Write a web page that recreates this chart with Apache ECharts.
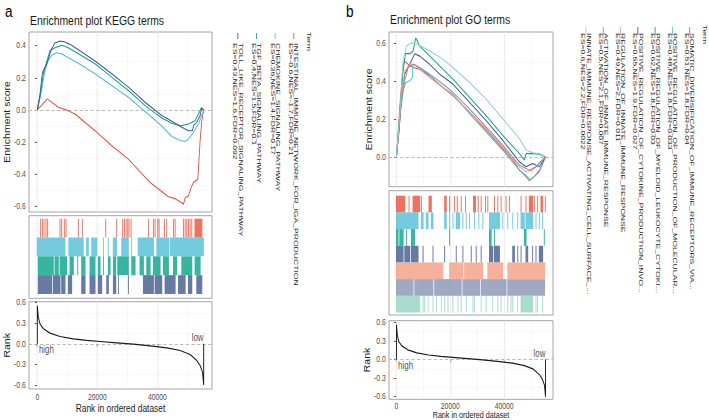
<!DOCTYPE html>
<html>
<head>
<meta charset="utf-8">
<script src="https://cdn.jsdelivr.net/npm/echarts@6/dist/echarts.min.js"></script>
<style>
    html, body { margin: 0; padding: 0; overflow: hidden; background: #fff; }
    /* the figure is squeezed sideways, so draw wide and compress */
    #main { width: 886px; height: 420px; transform: scaleX(0.8); transform-origin: 0 0; }
</style>
</head>
<body>
<div id="main"></div>
<script>
    // ---- axis ticks ----
    var xTicks = [0, 20000, 40000];
    var xMinor = [10000, 30000, 50000];
    var esTicksA = [-0.6, -0.4, -0.2, 0, 0.2, 0.4];
    var esMinorA = [-0.5, -0.3, -0.1, 0.1, 0.3];
    var esTicksB = [0, 0.2, 0.4, 0.6];
    var esMinorB = [-0.1, 0.1, 0.3, 0.5];
    var rankTicks = [-0.6, -0.3, 0, 0.3, 0.6];
    var rankMinor = [-0.45, -0.15, 0.15, 0.45];

    // ---- panel a: KEGG terms ----
    var termsA = ['INTESTINAL_IMMUNE_NETWORK_FOR_IGA_PRODUCTION', 'CHEMOKINE_SIGNALING_PATHWAY',
        'TGF_BETA_SIGNALING_PATHWAY', 'TOLL_LIKE_RECEPTOR_SIGNALING_PATHWAY'];
    var statsA = ['ES=-0.6,NES=-1.7,FDR=0.21', 'ES=0.36,NES=1.4,FDR=0.17',
        'ES=0.4,NES=1.5,FDR=0.1', 'ES=0.43,NES=1.6,FDR=0.092'];
    var colorsA = ['#E64B35', '#4DBBD5', '#00A087', '#3C5488'];

    var posA1 = [0, 3330, 7000, 9780, 12560, 19220, 24780, 30330, 37560, 43670, 45890, 48110, 48670, 49220, 50330, 51220, 52000, 53440, 53670, 54220, 54770, 55400];
    var esA1 = [0, 0.069, 0.017, 0, -0.025, -0.129, -0.223, -0.306, -0.452, -0.54, -0.552, -0.577, -0.587, -0.546, -0.535, -0.483, -0.452, -0.431, -0.358, -0.19, -0.067, 0];
    var posA2 = [0, 1440, 2560, 3670, 4780, 6440, 8110, 10330, 13670, 19220, 24780, 30330, 35890, 41440, 44780, 47550, 49220, 50330, 52000, 53670, 55400];
    var esA2 = [0, 0.12, 0.246, 0.308, 0.34, 0.356, 0.35, 0.325, 0.29, 0.225, 0.152, 0.079, -0.01, -0.1, -0.165, -0.19, -0.196, -0.18, -0.14, -0.0875, 0];
    var posA3 = [0, 890, 2000, 3110, 4220, 5890, 8110, 10330, 13670, 19220, 24780, 30330, 35890, 41440, 44780, 47550, 50330, 52550, 54220, 54550, 55400];
    var esA3 = [0, 0.079, 0.225, 0.298, 0.371, 0.3875, 0.402, 0.3875, 0.35, 0.2875, 0.204, 0.121, 0.027, -0.05, -0.083, -0.098, -0.0875, -0.067, -0.004, 0.0125, 0];
    var posA4 = [0, 890, 1670, 3110, 4780, 5890, 7560, 9220, 11440, 14780, 19220, 24780, 30330, 35890, 41440, 44780, 48110, 50330, 51670, 52000, 53110, 54220, 54770, 55400];
    var esA4 = [0, 0.1, 0.229, 0.2875, 0.381, 0.417, 0.429, 0.423, 0.402, 0.36, 0.304, 0.225, 0.142, 0.048, -0.035, -0.071, -0.108, -0.129, -0.129, -0.098, -0.077, -0.035, 0.0125, 0];

    // hits per gene set, [from, to] (to == from for a single tick)
    var hitsA1 = [[1110, 1110], [1670, 1670], [2220, 2220], [2890, 2890], [3440, 3440], [7560, 7560], [8110, 8110], [9000, 9000], [9550, 9550],
        [13670, 13670], [15000, 15000], [22780, 22780], [26440, 26440], [28440, 28440], [29000, 29000], [29550, 29550], [30110, 30110],
        [30550, 30550], [31220, 31220], [37000, 37000], [38660, 38660], [39220, 39220], [40110, 40110], [40550, 40550], [42330, 42330],
        [43110, 43110], [45330, 45330], [45890, 45890], [48660, 48660], [49220, 49220], [49770, 49770], [50330, 50330], [50880, 50880],
        [51440, 51440], [52500, 54800]];
    var hitsA2 = [[0, 9200], [10500, 15300], [16400, 17000], [18100, 19800], [22000, 22000], [23600, 23600], [25300, 26400],
        [28100, 30300], [31400, 31400], [33600, 38700], [39800, 43700], [44200, 55300]];
    var hitsA3 = [[330, 5330], [5890, 7000], [7560, 9780], [10890, 12000], [13440, 13440], [14780, 15890], [17550, 19220], [20330, 20890],
        [22000, 22000], [23660, 24220], [25330, 26110], [26780, 30330], [31440, 32550], [34220, 35330], [36440, 37550], [38660, 40880],
        [42000, 43660], [45330, 46440], [48110, 51440], [52550, 54220]];
    var hitsA4 = [[330, 4780], [5330, 7560], [8110, 9220], [10330, 11440], [14780, 15890], [17550, 19220], [20330, 21440], [23110, 23660],
        [25330, 26110], [27000, 27000], [30330, 30330], [35330, 38660], [39220, 41440], [42550, 45890], [47000, 49220], [50330, 51440],
        [53110, 54770]];

    // ---- panel b: GO terms ----
    var termsB = ['SOMATIC_DIVERSIFICATION_OF_IMMUNE_RECEPTORS_VIA...', 'POSITIVE_REGULATION_OF_PRODUCTION_OF_MOLECULAR...',
        'POSITIVE_REGULATION_OF_MYELOID_LEUKOCYTE_CYTOKI...', 'POSITIVE_REGULATION_OF_CYTOKINE_PRODUCTION_INVO...',
        'REGULATION_OF_INNATE_IMMUNE_RESPONSE', 'ACTIVATION_OF_INNATE_IMMUNE_RESPONSE',
        'INNATE_IMMUNE_RESPONSE_ACTIVATING_CELL_SURFACE_...'];
    var statsB = ['ES=0.51,NES=1.8,FDR=0.04', 'ES=0.48,NES=1.8,FDR=0.033', 'ES=0.62,NES=1.8,FDR=0.03',
        'ES=0.55,NES=1.9,FDR=0.027', 'ES=0.49,NES=2,FDR=0.011', 'ES=0.5,NES=2.1,FDR=0.007', 'ES=0.6,NES=2.2,FDR=0.0022'];
    var colorsB = ['#E64B35', '#4DBBD5', '#00A087', '#3C5488', '#F39B7F', '#8491B4', '#91D1C2'];

    var posB1 = [0, 1235, 2469, 3086, 4321, 6173, 8642, 12346, 17284, 20988, 27160, 33333, 39506, 43210, 45679, 48148, 49383, 51235, 53086, 55400];
    var esB1 = [0, 0.261, 0.487, 0.501, 0.487, 0.47, 0.461, 0.426, 0.365, 0.322, 0.235, 0.139, 0.043, -0.017, -0.07, -0.104, -0.125, -0.104, -0.078, 0];
    var posB2 = [0, 1481, 2469, 3457, 4938, 5926, 6173, 7407, 11111, 17284, 20988, 27160, 33333, 39506, 45679, 48765, 49383, 51235, 53086, 55400];
    var esB2 = [0, 0.226, 0.348, 0.391, 0.4, 0.417, 0.487, 0.478, 0.443, 0.365, 0.33, 0.226, 0.13, 0.035, -0.07, -0.104, -0.122, -0.104, -0.07, 0];
    var posB3 = [0, 1235, 2469, 3333, 4938, 6173, 7161, 8642, 14815, 20988, 27160, 33333, 39506, 45679, 47531, 48148, 50617, 53086, 55400];
    var esB3 = [0, 0.226, 0.452, 0.543, 0.543, 0.557, 0.626, 0.583, 0.496, 0.409, 0.313, 0.217, 0.113, 0.017, -0.017, 0.017, 0.017, 0.014, 0];
    var posB4 = [0, 988, 1852, 3086, 4938, 6790, 8642, 12346, 16049, 20988, 27160, 33333, 39506, 45679, 48148, 50617, 53086, 55400];
    var esB4 = [0, 0.139, 0.313, 0.435, 0.487, 0.543, 0.53, 0.487, 0.435, 0.383, 0.287, 0.191, 0.087, -0.026, -0.052, -0.035, -0.052, 0];
    var posB5 = [0, 1852, 3086, 4938, 6790, 8642, 12346, 17284, 20988, 27160, 33333, 39506, 45679, 48148, 50617, 53086, 55400];
    var esB5 = [0, 0.313, 0.452, 0.487, 0.487, 0.461, 0.417, 0.365, 0.322, 0.235, 0.148, 0.052, -0.052, -0.078, -0.07, -0.035, 0];
    var posB6 = [0, 1481, 3086, 4321, 6173, 8642, 12346, 17284, 20988, 27160, 33333, 39506, 45679, 49383, 51852, 55400];
    var esB6 = [0, 0.261, 0.4, 0.47, 0.487, 0.47, 0.435, 0.383, 0.339, 0.252, 0.157, 0.061, -0.043, -0.07, -0.052, 0];
    var posB7 = [0, 1235, 2469, 3704, 5556, 7407, 9877, 12346, 17284, 20988, 27160, 33333, 39506, 45679, 48148, 50617, 53086, 55400];
    var esB7 = [0, 0.226, 0.504, 0.583, 0.6, 0.595, 0.577, 0.557, 0.513, 0.47, 0.391, 0.304, 0.2, 0.096, 0.038, 0.021, 0.017, 0];

    var hitsB1 = [[0, 3090], [4690, 4690], [6170, 8640], [9260, 9260], [12100, 12960], [17900, 18520], [19750, 19750], [21600, 21600],
        [22590, 22590], [24070, 24070], [25680, 25680], [28640, 29380], [30370, 30370], [31480, 31480], [33090, 33090], [33950, 33950],
        [36420, 36420], [37650, 37650], [38890, 38890], [40740, 40740], [41980, 41980], [46300, 46300], [48150, 48150], [49380, 50620],
        [51230, 51230], [52470, 52470], [53700, 54320], [55310, 55310]];
    var hitsB2 = [[0, 8020], [9260, 9880], [11110, 11730], [12960, 13580], [17900, 18520], [19750, 19750], [20990, 20990], [22220, 23460],
        [24690, 24690], [25930, 25930], [27160, 27160], [29010, 29010], [30620, 30620], [32100, 32100], [34570, 38270], [39510, 39510],
        [41360, 41360], [43210, 43210], [45060, 45060], [46300, 47530], [48150, 50620], [51850, 51850], [53090, 53090], [54320, 54320]];
    var hitsB3 = [[0, 620], [1230, 2470], [3700, 3700], [5560, 6790], [19750, 19750], [34570, 35190], [36420, 36420], [47530, 48150],
        [54940, 54940]];
    var hitsB4 = [[0, 2470], [3090, 4940], [5560, 8020], [9880, 9880], [13580, 13580], [17900, 17900], [22220, 22220], [24690, 24690],
        [27780, 27780], [29630, 29630], [31480, 31480], [34570, 35800], [36420, 38270], [43210, 43830], [45060, 45060], [46300, 46300],
        [48150, 48770], [50620, 50620], [51850, 51850], [53090, 54320]];
    var hitsB5 = [[0, 17280], [19750, 24690], [25310, 32100], [33950, 39510], [41360, 55060]];
    var hitsB6 = [[0, 6170], [6790, 13580], [14200, 24070], [24690, 30860], [31480, 40740], [41360, 55060]];
    var hitsB7 = [[0, 8640], [9880, 9880], [10490, 10490], [11730, 11730], [13580, 13580], [14810, 14810], [16670, 16670], [17900, 17900],
        [19140, 19140], [20990, 20990], [22840, 22840], [24070, 24070], [25930, 25930], [28400, 28400], [29010, 29010], [31480, 31480],
        [33330, 33330], [35800, 35800], [37650, 37650], [38890, 38890], [41360, 41360], [42590, 42590], [43210, 43210], [45060, 45060],
        [46300, 50620], [51850, 51850], [52470, 52470], [54320, 54320]];

    // ranked list metric (same dataset in both panels)
    var rankPos = [0, 0, 333, 889, 2000, 4222, 7555, 12000, 16444, 20888, 26444, 32000, 37555, 43111, 47555, 50888, 53111, 54222, 55000, 55400, 55400];
    var rankMetric = [0, 0.56, 0.39, 0.29, 0.22, 0.156, 0.107, 0.073, 0.049, 0.034, 0.015, -0.005, -0.03, -0.059, -0.098, -0.156, -0.244, -0.317, -0.415, -0.6, 0];

    var posA = [posA1, posA2, posA3, posA4];
    var esA = [esA1, esA2, esA3, esA4];
    var hitsA = [hitsA1, hitsA2, hitsA3, hitsA4];
    var posB = [posB1, posB2, posB3, posB4, posB5, posB6, posB7];
    var esB = [esB1, esB2, esB3, esB4, esB5, esB6, esB7];
    var hitsB = [hitsB1, hitsB2, hitsB3, hitsB4, hitsB5, hitsB6, hitsB7];

    var X_MIN = -2770, X_MAX = 58170;
    var FONT = 'Liberation Sans, Arial, sans-serif';

    function zip(xs, ys) {
        return xs.map(function (x, i) { return [x, ys[i]]; });
    }

    function fmt1(v) {
        return Number(v).toFixed(1);
    }

    function rugItem(params, api) {
        var row = api.value(2);
        var p0 = api.coord([api.value(0), row + 1]);
        var p1 = api.coord([api.value(1), row]);
        var x0 = p0[0] - 0.6, x1 = p1[0] + 0.6;
        return {
            type: 'rect',
            shape: {x: x0, y: p0[1], width: x1 - x0, height: p1[1] - p0[1]},
            style: {fill: api.visual('color'), opacity: 0.78}
        };
    }

    function gridLines(idx, xs, ys, style, z) {
        var d = [];
        xs.forEach(function (v) { d.push({xAxis: v}); });
        ys.forEach(function (v) { d.push({yAxis: v}); });
        return {
            type: 'line', xAxisIndex: idx, yAxisIndex: idx, data: [], silent: true,
            markLine: {silent: true, z: z, symbol: ['none', 'none'], label: {show: false}, lineStyle: style, data: d, animation: false}
        };
    }

    var major = {color: '#e6e6e6', width: 1, type: 'solid'};
    var minor = {color: '#f1f1f1', width: 0.6, type: 'solid'};
    var dash = {color: '#a8a8a8', width: 0.9, type: [4, 3]};

    // grids: a-ES, a-rug, a-rank, b-ES, b-rug, b-rank  (unscaled coords)
    var grids = [
        {left: 36.25, width: 228.75, top: 32, height: 180},
        {left: 36.25, width: 228.75, top: 215.7, height: 82.6},
        {left: 36.25, width: 228.75, top: 301.7, height: 87.3},
        {left: 486.25, width: 205, top: 32, height: 154.7},
        {left: 486.25, width: 205, top: 190.7, height: 124.3},
        {left: 486.25, width: 205, top: 320.7, height: 78.6}
    ].map(function (g) {
        g.show = true;
        g.borderColor = '#9a9a9a';
        g.borderWidth = 1;
        g.outerBoundsMode = 'none';
        return g;
    });

    var hide = {show: false};
    var labelStyle = {color: '#4d4d4d', fontSize: 8.5, lineHeight: 8, fontFamily: FONT};
    var nameStyle = {color: '#1a1a1a', fontSize: 10.5, fontFamily: FONT};

    function xAxisFor(idx, withLabels, nameGap, nameSize, labelMargin) {
        var ax = {type: 'value', gridIndex: idx, min: X_MIN, max: X_MAX, splitLine: hide, axisLine: hide};
        if (withLabels) {
            ax.axisLabel = Object.assign({customValues: xTicks, margin: labelMargin, formatter: function (v) { return String(v); }}, labelStyle);
            ax.axisTick = {customValues: xTicks, length: 3, lineStyle: {color: '#333'}};
            ax.name = 'Rank in ordered dataset';
            ax.nameLocation = 'middle';
            ax.nameGap = nameGap;
            ax.nameMoveOverlap = false;
            ax.nameTextStyle = Object.assign({}, nameStyle, {fontSize: nameSize, lineHeight: nameSize});
        } else {
            ax.axisLabel = hide;
            ax.axisTick = hide;
        }
        return ax;
    }

    function yAxisFor(idx, min, max, ticks, name, nameGap) {
        var ax = {type: 'value', gridIndex: idx, min: min, max: max, splitLine: hide, axisLine: hide};
        if (ticks) {
            ax.axisLabel = Object.assign({customValues: ticks, margin: 4, formatter: fmt1}, labelStyle);
            ax.axisTick = {customValues: ticks, length: 3, lineStyle: {color: '#333'}};
            ax.name = name;
            ax.nameLocation = 'middle';
            ax.nameGap = nameGap;
            ax.nameTextStyle = nameStyle;
        } else {
            ax.axisLabel = hide;
            ax.axisTick = hide;
        }
        return ax;
    }

    var xAxes = [xAxisFor(0, false), xAxisFor(1, false), xAxisFor(2, true, 14, 10.5, 4),
        xAxisFor(3, false), xAxisFor(4, false), xAxisFor(5, true, 11.5, 9, 2.5)];
    var yAxes = [
        yAxisFor(0, -0.635, 0.485, esTicksA, 'Enrichment score', 20),
        yAxisFor(1, -0.23, 4.16, null),
        yAxisFor(2, -0.66, 0.615, rankTicks, 'Rank', 20),
        yAxisFor(3, -0.157, 0.657, esTicksB, 'Enrichment score', 20),
        yAxisFor(4, -0.15, 7.3, null),
        yAxisFor(5, -0.642, 0.626, rankTicks, 'Rank', 20)
    ];

    var series = [];

    function addPanel(base, pos, es, hits, colors, esMinor) {
        var nRows = hits.length;
        // grid lines
        series.push(gridLines(base, xMinor, esMinor, minor, 1));
        series.push(gridLines(base, xTicks, [], major, 1.1));
        series.push(gridLines(base + 1, xMinor, [], minor, 1));
        series.push(gridLines(base + 1, xTicks, [], major, 1.1));
        series.push(gridLines(base + 2, xMinor, rankMinor, minor, 1));
        series.push(gridLines(base + 2, xTicks, [], major, 1.1));
        series.push(gridLines(base, [], [0], dash, 1.5));
        series.push(gridLines(base + 2, [], [0], dash, 1.5));
        // running enrichment score
        es.forEach(function (ys, i) {
            series.push({
                type: 'line', xAxisIndex: base, yAxisIndex: base, data: zip(pos[i], ys),
                showSymbol: false, symbol: 'none', z: 3, silent: true,
                lineStyle: {color: colors[i], width: 1.1}
            });
        });
        // hit ticks
        hits.forEach(function (h, i) {
            series.push({
                type: 'custom', xAxisIndex: base + 1, yAxisIndex: base + 1, renderItem: rugItem,
                itemStyle: {color: colors[i]}, z: 3, silent: true,
                encode: {x: [0, 1], y: 2},
                data: h.map(function (p) { return [p[0], p[1], nRows - 1 - i]; })
            });
        });
        // ranked list metric
        series.push({
            type: 'line', xAxisIndex: base + 2, yAxisIndex: base + 2, data: zip(rankPos, rankMetric),
            showSymbol: false, symbol: 'none', z: 3, silent: true,
            lineStyle: {color: '#1a1a1a', width: 1.2}
        });
        series.push({
            type: 'scatter', xAxisIndex: base + 2, yAxisIndex: base + 2, symbolSize: 0.1, z: 4, silent: true,
            itemStyle: {color: 'rgba(0,0,0,0)'},
            data: [
                {value: [rankPos[0], 0], label: {formatter: 'high', position: [2, 1], align: 'left', verticalAlign: 'top'}},
                {value: [rankPos[rankPos.length - 1], 0], label: {formatter: 'low', position: [0, -1], align: 'right', verticalAlign: 'bottom'}}
            ],
            label: {show: true, color: '#1a1a1a', fontSize: 10, fontFamily: FONT}
        });
    }

    addPanel(0, posA, esA, hitsA, colorsA, esMinorA);
    addPanel(3, posB, esB, hitsB, colorsB, esMinorB);

    // legends (text runs downward, like the rotated ggplot guide)
    var graphics = [];
    var LH = 8.25, SY = 0.8, LFS = 8.6;

    function addLegend(terms, stats, colors, line1X, step, textTop, keyTop, keyBottom, termX, termTop) {
        graphics.push({
            type: 'text', x: termX + LFS * SY / 2, y: termTop, rotation: -Math.PI / 2, scaleY: SY,
            style: {text: 'Term', fontSize: LFS, fontFamily: FONT, fill: '#1a1a1a', align: 'left', verticalAlign: 'top',
                textAlign: 'left', textVerticalAlign: 'top'}
        });
        terms.forEach(function (t, i) {
            var cx = line1X - i * step;
            graphics.push({
                type: 'text', x: cx + LH * SY / 2, y: textTop, rotation: -Math.PI / 2, scaleY: SY,
                style: {text: t + '\n' + stats[i], fontSize: LFS, lineHeight: LH, fontFamily: FONT, fill: '#1a1a1a',
                    align: 'left', verticalAlign: 'top', textAlign: 'left', textVerticalAlign: 'top'}
            });
            graphics.push({
                type: 'line', shape: {x1: cx - LH * SY / 2, y1: keyTop, x2: cx - LH * SY / 2, y2: keyBottom},
                style: {stroke: colors[i], lineWidth: 1.3, opacity: 0.8}
            });
        });
    }

    addLegend(termsA, statsA, colorsA, 370.5, 23.3, 43, 33, 39, 386, 32);
    addLegend(termsB, statsB, colorsB, 865.4, 21.6, 33, 27, 35, 881, 25);

    // panel letters and titles
    graphics.push({type: 'text', x: 6.25, y: 19, style: {text: 'a', fontSize: 17, fontFamily: FONT, fill: '#000',
        align: 'left', verticalAlign: 'bottom', textAlign: 'left', textVerticalAlign: 'bottom'}});
    graphics.push({type: 'text', x: 432.5, y: 19, style: {text: 'b', fontSize: 17, fontFamily: FONT, fill: '#000',
        align: 'left', verticalAlign: 'bottom', textAlign: 'left', textVerticalAlign: 'bottom'}});
    graphics.push({type: 'text', x: 37.5, y: 20.5, style: {text: 'Enrichment plot KEGG terms', fontSize: 13, fontFamily: FONT,
        fill: '#1a1a1a', align: 'left', verticalAlign: 'middle', textAlign: 'left', textVerticalAlign: 'middle'}});
    graphics.push({type: 'text', x: 487.5, y: 19.5, style: {text: 'Enrichment plot GO terms', fontSize: 13, fontFamily: FONT,
        fill: '#1a1a1a', align: 'left', verticalAlign: 'middle', textAlign: 'left', textVerticalAlign: 'middle'}});

    var chart = echarts.init(document.getElementById('main'), null, {renderer: 'svg'});
    chart.setOption({
        animation: false,
        textStyle: {fontFamily: FONT},
        grid: grids,
        xAxis: xAxes,
        yAxis: yAxes,
        series: series,
        graphic: {elements: graphics}
    });
</script>
</body>
</html>
